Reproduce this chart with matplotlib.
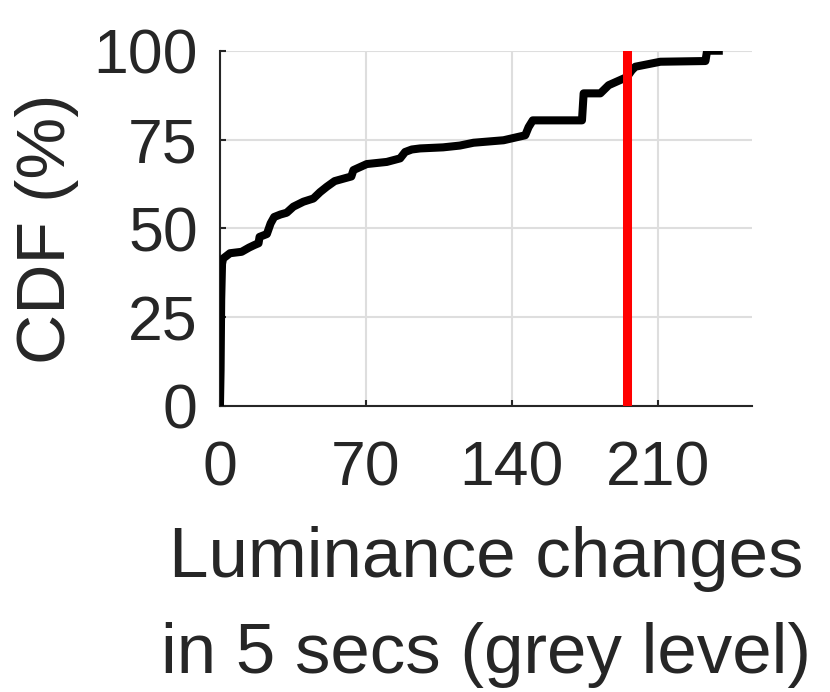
import numpy as np
import matplotlib
matplotlib.use("Agg")
import matplotlib.pyplot as plt

# CDF-Kurve
lum_change = [0, 0.3, 0.6, 1.0, 1.5, 4.8, 10.4, 14, 16.5, 18.5, 19, 22.5, 24.3,
              26, 29, 32, 35.2, 40, 44.8, 48, 51.2, 55, 60.5, 63, 64, 67, 70.4,
              80, 86.4, 88.8, 92, 96, 107, 115, 121.6, 136, 146.4, 148, 150,
              173.6, 174.4, 182.4, 186.4, 195.2, 197.5, 199.2, 211.2, 232.8,
              233.6, 239.2]
cdf_pct = [0, 10, 30, 40, 41.5, 43.0, 43.4, 44.6, 45.3, 45.8, 47.6, 48.4, 51.4,
           53.2, 53.9, 54.4, 56.1, 57.5, 58.4, 60.2, 61.7, 63.3, 64.2, 64.6,
           66.4, 67.2, 68.1, 68.7, 69.7, 71.5, 72.2, 72.5, 72.8, 73.3, 74.1,
           74.8, 76.2, 78.5, 80.4, 80.4, 88.0, 88.0, 90.3, 92.6, 94.5, 95.5,
           96.9, 97.1, 100, 100]
threshold = 195

x_ticks = [0, 70, 140, 210]
y_ticks = [0, 25, 50, 75, 100]
X_MAX = 255

TXT = "#262626"
plt.rcParams["font.family"] = ["Liberation Sans", "DejaVu Sans"]

fig = plt.figure(figsize=(8.3, 6.92), dpi=100)
ax = fig.add_axes([0.265, 0.4133, 0.6407, 0.5134])

ax.plot(lum_change, cdf_pct, color="black", linewidth=5.8, zorder=3)
ax.axvline(threshold, color="red", linewidth=6.5, zorder=4)

ax.set_xlim(0, X_MAX)
ax.set_ylim(0, 100)
ax.set_xticks(x_ticks)
ax.set_yticks(y_ticks)
ax.grid(True, color="#dedede", linewidth=1.5, zorder=0)
ax.set_axisbelow(True)

for side in ["top", "right"]:
    ax.spines[side].set_visible(False)
for side in ["left", "bottom"]:
    ax.spines[side].set_color(TXT)
    ax.spines[side].set_linewidth(1.5)

ax.tick_params(direction="in", length=4.5, width=1.5, colors=TXT,
               labelsize=45, labelcolor=TXT)
ax.tick_params(axis="y", pad=16)
ax.tick_params(axis="x", pad=24)

ax.set_xlabel("Luminance changes\nin 5 secs (grey level)", fontsize=51,
              color=TXT, labelpad=20, linespacing=1.58)
ax.set_ylabel("CDF (%)", fontsize=50, color=TXT, labelpad=10)

fig.savefig("out.png", dpi=100)
